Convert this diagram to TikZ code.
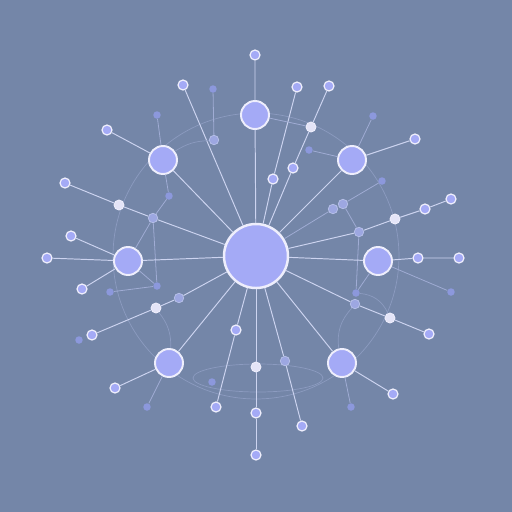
\documentclass[tikz,border=0pt]{standalone}
\usepackage{tikz}

\definecolor{bg}{RGB}{116,134,168}
\definecolor{lav}{RGB}{164,170,246}
\definecolor{rim}{RGB}{238,238,252}
\definecolor{wire}{RGB}{205,212,240}
\definecolor{dimwire}{RGB}{160,172,212}
\definecolor{dust}{RGB}{140,152,220}
\definecolor{pearl}{RGB}{228,228,247}

\tikzset{
  hub/.style={circle, fill=lav, draw=rim, line width=1.4pt, minimum size=1.28cm, inner sep=0pt},
  sat/.style={circle, fill=lav, draw=rim, line width=1.1pt, minimum size=0.56cm, inner sep=0pt},
  leaf/.style={circle, fill=lav, draw=rim, line width=0.7pt, minimum size=0.2cm, inner sep=0pt},
  middot/.style={circle, fill=dust!85!white, draw=wire!70!dust, line width=0.4pt, minimum size=0.19cm, inner sep=0pt},
  speck/.style={circle, fill=dust, minimum size=0.15cm, inner sep=0pt},
  pearldot/.style={circle, fill=pearl, draw=rim, line width=0.5pt, minimum size=0.2cm, inner sep=0pt},
  link/.style={draw=wire, line width=0.55pt},
  dimlink/.style={draw=dimwire, line width=0.45pt},
  ring/.style={draw=dimwire!55!bg, line width=0.4pt},
}

\begin{document}
\begin{tikzpicture}[x=0.02cm, y=-0.02cm]
      \fill[bg] (0,0) rectangle (512,512);
      \draw[ring] (256,256) circle (2.86cm);
      \draw[ring] (258,378) ellipse (1.3cm and 0.28cm);

      % hub and satellites
      \node[hub] (c) at (256,256) {};
      \node[sat] (m1) at (255,115) {};
      \node[sat] (m2) at (163,160) {};
      \node[sat] (m3) at (352,160) {};
      \node[sat] (m4) at (128,261) {};
      \node[sat] (m5) at (378,261) {};
      \node[sat] (m6) at (169,363) {};
      \node[sat] (m7) at (342,363) {};

      % upper left
      \node[leaf] (a1) at (255,55) {};
      \node[leaf] (a2) at (183,85) {};
      \node[speck] (a3) at (213,89) {};
      \node[middot] (a4) at (214,140) {};
      \node[speck] (a5) at (157,115) {};
      \node[leaf] (a6) at (107,130) {};
      \node[leaf] (a7) at (65,183) {};
      \node[pearldot] (a8) at (119,205) {};
      \node[middot] (a9) at (153,218) {};
      \node[speck] (a10) at (169,196) {};

      % left
      \node[speck] (a11) at (157,286) {};
      \node[speck] (a12) at (110,292) {};
      \node[leaf] (a13) at (71,236) {};
      \node[leaf] (a14) at (47,258) {};
      \node[leaf] (a15) at (82,289) {};
      \node[middot] (a16) at (179,298) {};
      \node[pearldot] (a17) at (156,308) {};
      \node[leaf] (a18) at (92,335) {};
      \node[speck] (a19) at (79,340) {};

      % lower left and bottom
      \node[leaf] (a20) at (115,388) {};
      \node[speck] (a21) at (147,407) {};
      \node[leaf] (a22) at (236,330) {};
      \node[leaf] (a23) at (216,407) {};
      \node[speck] (a24) at (212,382) {};
      \node[pearldot] (a25) at (256,367) {};
      \node[leaf] (a26) at (256,413) {};
      \node[leaf] (a27) at (256,455) {};
      \node[middot] (a28) at (285,361) {};
      \node[leaf] (a29) at (302,426) {};

      % lower right
      \node[leaf] (a30) at (393,394) {};
      \node[speck] (a31) at (351,407) {};
      \node[middot] (a32) at (355,304) {};
      \node[pearldot] (a33) at (390,318) {};
      \node[leaf] (a34) at (429,334) {};
      \node[speck] (a35) at (356,293) {};
      \node[speck] (a43) at (451,292) {};

      % right
      \node[middot] (a36) at (359,232) {};
      \node[pearldot] (a37) at (395,219) {};
      \node[leaf] (a38) at (425,209) {};
      \node[leaf] (a39) at (451,199) {};
      \node[middot] (a40) at (343,204) {};
      \node[middot] (a41) at (333,209) {};
      \node[speck] (a42) at (382,181) {};
      \node[leaf] (a44) at (418,258) {};
      \node[leaf] (a45) at (459,258) {};

      % upper right
      \node[speck] (a46) at (373,116) {};
      \node[leaf] (a47) at (415,139) {};
      \node[speck] (a48) at (309,150) {};
      \node[leaf] (a49) at (297,87) {};
      \node[leaf] (a50) at (273,179) {};
      \node[leaf] (a51) at (329,86) {};
      \node[pearldot] (a52) at (311,127) {};
      \node[leaf] (a53) at (293,168) {};

      % spokes
      \draw[link] (a1) -- (m1) -- (c);
      \draw[link] (a2) -- (c);
      \draw[dimlink] (a3) -- (a4);
      \draw[dimlink] (a5) -- (m2);
      \draw[link] (a6) -- (m2) -- (c);
      \draw[link] (a7) -- (a8) -- (a9) -- (c);
      \draw[dimlink] (a9) -- (a10) -- (m2);
      \draw[dimlink] (a9) -- (m4);
      \draw[dimlink] (a9) -- (a11);
      \draw[dimlink] (a12) -- (a11) -- (m4);
      \draw[link] (a13) -- (m4);
      \draw[link] (a14) -- (m4) -- (c);
      \draw[link] (a15) -- (m4);
      \draw[link] (a18) -- (a17) -- (a16) -- (c);
      \draw[link] (a20) -- (m6) -- (c);
      \draw[dimlink] (a21) -- (m6);
      \draw[link] (a23) -- (a22) -- (c);
      \draw[link] (a27) -- (a26) -- (a25) -- (c);
      \draw[link] (a29) -- (a28) -- (c);
      \draw[link] (a30) -- (m7) -- (c);
      \draw[dimlink] (a31) -- (m7);
      \draw[link] (a34) -- (a33) -- (a32) -- (c);
      \draw[dimlink] (a35) -- (m5);
      \draw[dimlink] (a36) -- (a35);
      \draw[dimlink] (a43) -- (m5);
      \draw[link] (a39) -- (a38) -- (a37) -- (a36) -- (c);
      \draw[dimlink] (a42) -- (a40) -- (a41) -- (c);
      \draw[dimlink] (a40) -- (a36);
      \draw[link] (a45) -- (a44) -- (m5) -- (c);
      \draw[dimlink] (a46) -- (m3);
      \draw[link] (a47) -- (m3) -- (c);
      \draw[dimlink] (a48) -- (m3);
      \draw[link] (a49) -- (a50) -- (c);
      \draw[link] (a51) -- (a52) -- (a53) -- (c);
      \draw[dimlink] (m1) -- (a52);

      % faint arcs
      \draw[ring] (m2) to[bend left=15] (a4);
      \draw[ring] (a17) to[bend left=20] (m6);
      \draw[ring] (a35) to[bend left=30] (a33);
      \draw[ring] (a32) to[bend right=25] (m7);
\end{tikzpicture}
\end{document}
